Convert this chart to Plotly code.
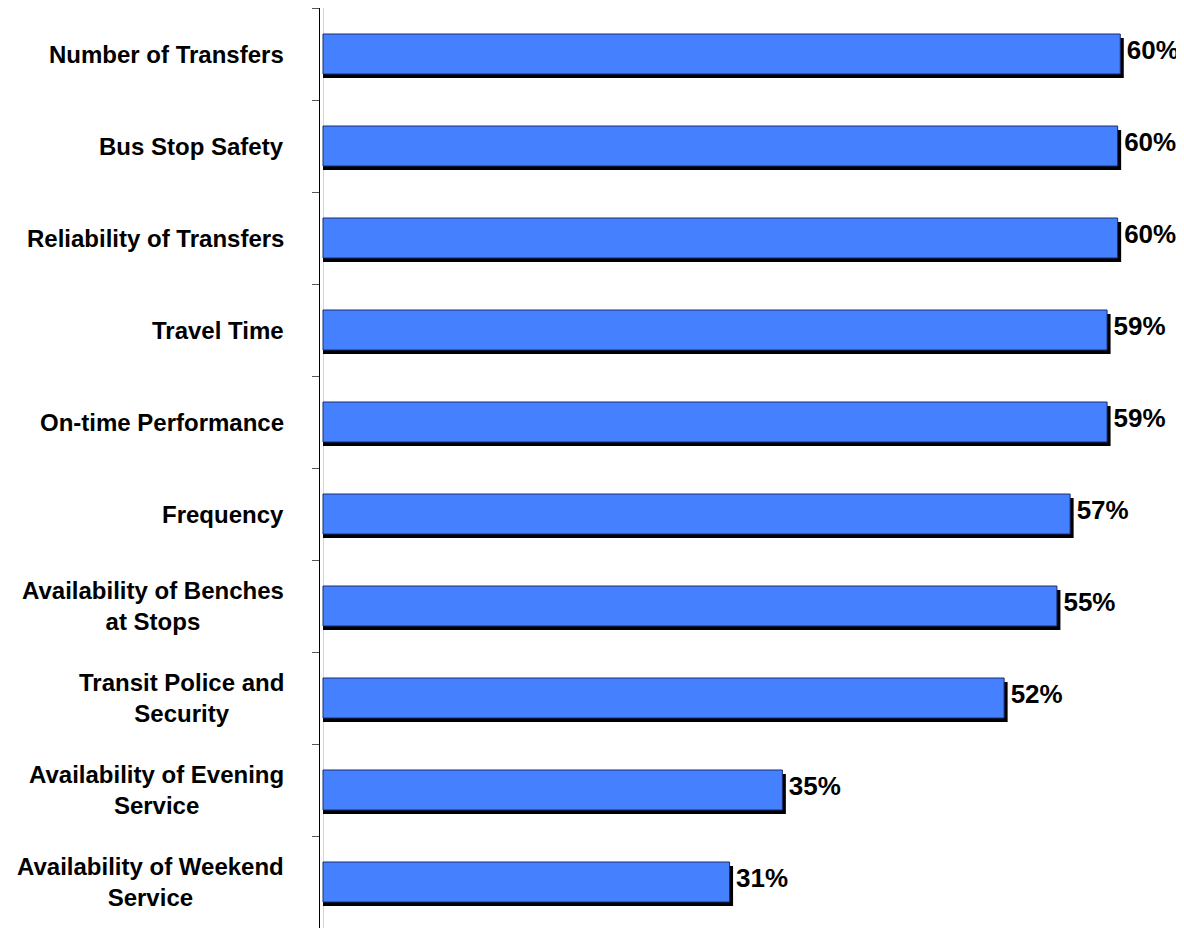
import plotly.graph_objects as go

# categories top to bottom (percent)
categories = [
    "Number of Transfers",
    "Bus Stop Safety",
    "Reliability of Transfers",
    "Travel Time",
    "On-time Performance",
    "Frequency",
    "Availability of Benches<br>at Stops",
    "Transit Police and<br>Security",
    "Availability of Evening<br>Service",
    "Availability of Weekend<br>Service",
]
values = [60.4, 60.2, 60.2, 59.4, 59.4, 56.6, 55.6, 51.6, 34.8, 30.8]
value_labels = ["60%", "60%", "60%", "59%", "59%", "57%", "55%", "52%", "35%", "31%"]

BAR_BLUE = "#4580FF"
FONT = "Arial, Liberation Sans, sans-serif"

# page body has an 8px margin, so the figure starts at (8, 8)
W, H = 1176, 926
M_L, M_R, M_T, M_B = 312, 6, 0, 6
PLOT_W = W - M_L - M_R
PX_PER_PCT = 13.2
x_min = -3 / PX_PER_PCT
x_max = x_min + PLOT_W / PX_PER_PCT

bar_w = 40 / 92
shadow_dx = 3.5 / PX_PER_PCT
shadow_dy = 4 / 92

fig = go.Figure()

# drop shadow, shifted right and down
fig.add_trace(go.Bar(
    y=categories,
    x=[v + shadow_dx for v in values],
    orientation="h",
    width=bar_w,
    offset=-bar_w / 2 + shadow_dy,
    marker=dict(color="black", line=dict(width=0)),
    hoverinfo="skip",
    showlegend=False,
))

fig.add_trace(go.Bar(
    y=categories,
    x=values,
    orientation="h",
    width=bar_w,
    offset=-bar_w / 2,
    marker=dict(color=BAR_BLUE, line=dict(color="#1C2C70", width=1)),
    showlegend=False,
))

# invisible carrier for the value labels, sitting past the shadow
fig.add_trace(go.Bar(
    y=categories,
    x=[v + shadow_dx for v in values],
    orientation="h",
    width=bar_w,
    offset=-bar_w / 2 - 4 / 92,
    marker=dict(color="rgba(0,0,0,0)", line=dict(width=0)),
    text=value_labels,
    textposition="outside",
    constraintext="none",
    cliponaxis=False,
    textfont=dict(family=FONT, size=26, color="black", weight="bold"),
    hoverinfo="skip",
    showlegend=False,
))

# category labels: block right-aligned, lines centred
for cat in categories:
    fig.add_annotation(
        x=-34 / PLOT_W,
        xref="paper",
        y=cat,
        yref="y",
        text=cat,
        showarrow=False,
        xanchor="right",
        yanchor="middle",
        align="center",
        font=dict(family=FONT, size=24, color="black", weight="bold"),
    )

fig.update_layout(
    width=W,
    height=H,
    margin=dict(l=M_L, r=M_R, t=M_T, b=M_B),
    paper_bgcolor="white",
    plot_bgcolor="white",
    barmode="overlay",
    xaxis=dict(
        range=[x_min, x_max],
        showgrid=False,
        showticklabels=False,
        ticks="",
        zeroline=True,
        zerolinecolor="#C9D7F5",
        zerolinewidth=1,
        showline=False,
    ),
    yaxis=dict(
        type="category",
        autorange="reversed",
        showticklabels=False,
        ticks="outside",
        tickson="boundaries",
        ticklen=7,
        tickcolor="#555555",
        showline=True,
        linecolor="black",
        linewidth=1,
        showgrid=False,
        zeroline=False,
    ),
)

fig.write_html("out.html")
